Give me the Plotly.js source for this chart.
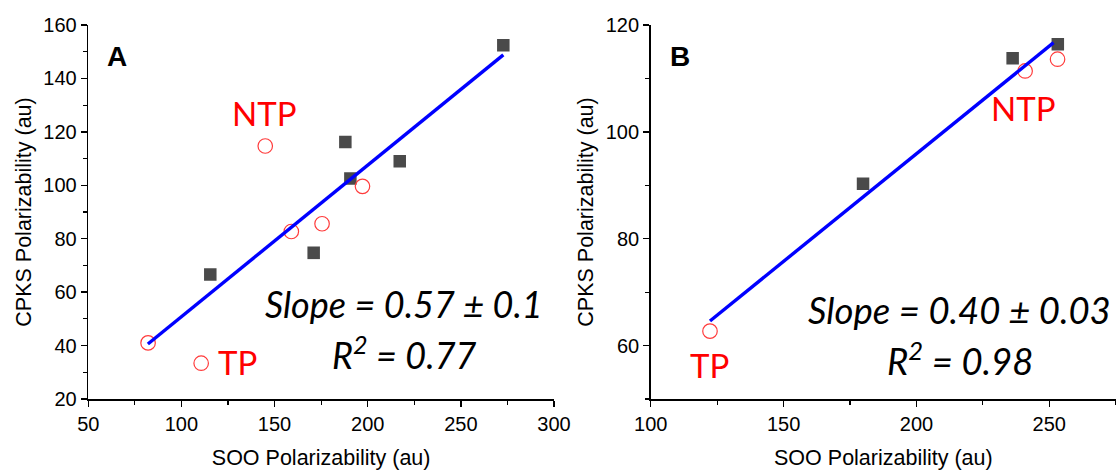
<!DOCTYPE html>
<html>
<head>
<meta charset="utf-8">
<script src="https://cdn.plot.ly/plotly-3.0.1.min.js"></script>
<style>html,body{margin:0;padding:0;background:#fff;}#chart{width:1116px;height:472px;}</style>
</head>
<body>
<div id="chart"></div>
<script>
// Panel A data
const aSquareX = [115.5, 171.0, 188.0, 190.7, 217.2, 272.8];
const aSquareY = [66.6, 74.7, 116.2, 102.5, 109.0, 152.4];
const aCircleX = [82.1, 110.6, 145.0, 159.0, 175.5, 197.2];
const aCircleY = [41.0, 33.4, 114.7, 82.7, 85.6, 99.6];
const aFitX = [82.0, 272.8];
const aFitY = [40.6, 148.8];
// Panel B data
const bSquareX = [179.9, 236.2, 253.2];
const bSquareY = [90.3, 113.8, 116.4];
const bCircleX = [122.3, 240.9, 253.1];
const bCircleY = [62.7, 111.4, 113.6];
const bFitX = [122.3, 251.6];
const bFitY = [64.6, 116.7];
// Labels
const aSlopeText = "Slope = 0.57 ± 0.1";
const aR2Text = "0.77";
const bSlopeText = "Slope = 0.40 ± 0.03";
const bR2Text = "0.98";
const xTitle = "SOO Polarizability (au)";
const yTitle = "CPKS Polarizability (au)";

const sqMarker = {symbol: 'square', size: 12.5, color: '#4a4a4a', line: {width: 0}};
const ciMarker = {symbol: 'circle-open', size: 14.5, color: '#ff3b3b', line: {width: 1.2, color: '#ff3b3b'}};
const fitLine = {color: '#0000ff', width: 3.4};

const traces = [
  {x: aSquareX, y: aSquareY, mode: 'markers', marker: sqMarker, xaxis: 'x', yaxis: 'y', hoverinfo: 'skip'},
  {x: aCircleX, y: aCircleY, mode: 'markers', marker: ciMarker, xaxis: 'x', yaxis: 'y', hoverinfo: 'skip'},
  {x: aFitX, y: aFitY, mode: 'lines', line: fitLine, xaxis: 'x', yaxis: 'y', hoverinfo: 'skip'},
  {x: bSquareX, y: bSquareY, mode: 'markers', marker: sqMarker, xaxis: 'x2', yaxis: 'y2', hoverinfo: 'skip'},
  {x: bCircleX, y: bCircleY, mode: 'markers', marker: ciMarker, xaxis: 'x2', yaxis: 'y2', hoverinfo: 'skip'},
  {x: bFitX, y: bFitY, mode: 'lines', line: fitLine, xaxis: 'x2', yaxis: 'y2', hoverinfo: 'skip'}
];

const tickFont = {family: 'Liberation Sans, Arial, sans-serif', size: 20, color: '#000'};
const titleFont = {family: 'Liberation Sans, Arial, sans-serif', size: 21.5, color: '#000'};

function xAxis(domain, range, anchor) {
  return {domain: domain, range: range, anchor: anchor, showgrid: false, zeroline: false,
    showline: true, linecolor: '#000', linewidth: 1.6, ticks: 'outside', ticklen: 6, tickwidth: 1.4, tickcolor: '#000',
    dtick: 50, tick0: 0, tickfont: tickFont,
    minor: {ticks: 'outside', ticklen: 4, tickwidth: 1.2, tickcolor: '#000', dtick: 25},
    title: {text: xTitle, font: titleFont, standoff: 16}};
}
function yAxis(domain, range, anchor, dtick) {
  return {domain: domain, range: range, anchor: anchor, showgrid: false, zeroline: false,
    showline: true, linecolor: '#000', linewidth: 1.6, ticks: 'outside', ticklen: 6, tickwidth: 1.4, tickcolor: '#000',
    dtick: dtick, tick0: 0, tickfont: tickFont,
    minor: {ticks: 'outside', ticklen: 4, tickwidth: 1.2, tickcolor: '#000', dtick: dtick / 2},
    title: {text: yTitle, font: titleFont, standoff: 6}};
}

const italicFont = {family: 'Lato, Open Sans, sans-serif', size: 36, color: '#000'};
const italicFontB = {family: 'Lato, Open Sans, sans-serif', size: 36.5, color: '#000'};
const redFont = {family: 'Lato, Open Sans, sans-serif', size: 33, color: '#ff0000'};
const panelFont = {family: 'Liberation Sans, Arial, sans-serif', size: 28, color: '#000'};

const annotations = [
  {xref: 'x', yref: 'y', x: 65.3, y: 148.1, text: '<b>A</b>', font: panelFont, showarrow: false},
  {xref: 'x', yref: 'y', x: 144.8, y: 127.0, text: 'NTP', font: redFont, showarrow: false},
  {xref: 'x', yref: 'y', x: 130.2, y: 33.7, text: 'TP', font: redFont, showarrow: false},
  {xref: 'x', yref: 'y', x: 219.6, y: 55.4, text: '<i>' + aSlopeText + '</i>', font: italicFont, showarrow: false},
  {xref: 'x', yref: 'y', x: 219.8, y: 37.1, text: '<i>R<sup>2</sup> = ' + aR2Text + '</i>', font: italicFont, showarrow: false},
  {xref: 'x2', yref: 'y2', x: 111.1, y: 114.07, text: '<b>B</b>', font: panelFont, showarrow: false},
  {xref: 'x2', yref: 'y2', x: 240.2, y: 104.4, text: 'NTP', font: redFont, showarrow: false},
  {xref: 'x2', yref: 'y2', x: 122.1, y: 56.3, text: 'TP', font: redFont, showarrow: false},
  {xref: 'x2', yref: 'y2', x: 216.1, y: 66.6, text: '<i>' + bSlopeText + '</i>', font: italicFontB, showarrow: false},
  {xref: 'x2', yref: 'y2', x: 216.5, y: 57.5, text: '<i>R<sup>2</sup> = ' + bR2Text + '</i>', font: italicFontB, showarrow: false}
];

const layout = {
  width: 1116, height: 472,
  margin: {l: 0, r: 0, t: 0, b: 0},
  paper_bgcolor: '#fff', plot_bgcolor: 'rgba(0,0,0,0)',
  showlegend: false,
  xaxis: xAxis([0.0791, 0.4964], [50, 300], 'y'),
  yaxis: yAxis([0.1547, 0.947], [20, 160], 'x', 20),
  xaxis2: xAxis([0.5831, 1.0], [100, 275.1], 'y2'),
  yaxis2: yAxis([0.1547, 0.947], [50, 120], 'x2', 20),
  annotations: annotations
};

Plotly.newPlot('chart', traces, layout, {displayModeBar: false, staticPlot: true});
</script>
</body>
</html>
